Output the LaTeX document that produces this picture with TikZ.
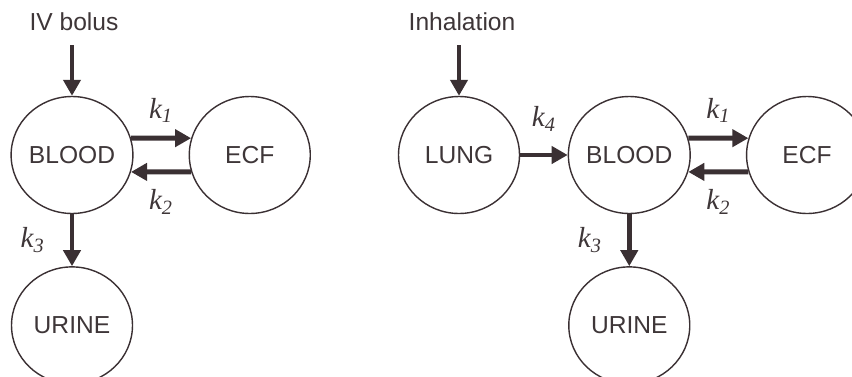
\documentclass[tikz,border=0pt]{standalone}
\usepackage{fontspec}
\setmainfont{Liberation Sans}
\newfontfamily\rateserif{Liberation Serif}
\usetikzlibrary{arrows.meta,positioning,shapes.geometric}
\definecolor{Ink}{HTML}{3A3033}
\definecolor{Label}{HTML}{3E3638}
\newcommand{\rate}[1]{{\rateserif\itshape k\textsubscript{#1}}}

\begin{document}
\begin{tikzpicture}[x=0.02cm,y=-0.02cm,
          comp/.style={ellipse,draw=Ink,line width=0.8pt,minimum width=2.42cm,
            minimum height=2.34cm,inner sep=0pt,font=\fontsize{14}{16}\selectfont,text=Label},
          flow/.style={-{Triangle[length=0.32cm,width=0.34cm]},draw=Ink,line width=2.8pt},
          ratelbl/.style={font=\fontsize{16.5}{18}\selectfont,text=Label,inner sep=0pt},
          route/.style={font=\fontsize{14}{16}\selectfont,text=Label}]
        \useasboundingbox (0,0) rectangle (852,376);
        % IV bolus model
        \node[comp] (blood1) at (72,155) {BLOOD};
        \node[comp,right=1.1cm of blood1] (ecf1) {ECF};
        \node[comp,below=1.04cm of blood1] (urine1) {URINE};
        \node[route] (ivtext) at (74,22) {IV bolus};
        \coordinate (iv) at (72,45);
        \draw[flow] (iv) -- (blood1.north);
        \draw[flow] (blood1.16) -- node[ratelbl,above=0.26cm] {\rate{1}} (ecf1.164);
        \draw[flow] (ecf1.-164) -- node[ratelbl,below=0.3cm] {\rate{2}} (blood1.-16);
        \draw[flow] (blood1.south) -- node[ratelbl,left=0.5cm] {\rate{3}} (urine1.north);
        % inhalation model
        \node[comp] (lung) at (459,155) {LUNG};
        \node[comp,right=0.95cm of lung] (blood2) {BLOOD};
        \node[comp,right=1.1cm of blood2] (ecf2) {ECF};
        \node[comp,below=1.04cm of blood2] (urine2) {URINE};
        \node[route] (inhtext) at (462,22) {Inhalation};
        \coordinate (inh) at (459,45);
        \draw[flow] (inh) -- (lung.north);
        \draw[flow] (lung.east) -- node[ratelbl,above=0.42cm] {\rate{4}} (blood2.west);
        \draw[flow] (blood2.16) -- node[ratelbl,above=0.26cm] {\rate{1}} (ecf2.164);
        \draw[flow] (ecf2.-164) -- node[ratelbl,below=0.3cm] {\rate{2}} (blood2.-16);
        \draw[flow] (blood2.south) -- node[ratelbl,left=0.5cm] {\rate{3}} (urine2.north);
      \end{tikzpicture}
\end{document}
